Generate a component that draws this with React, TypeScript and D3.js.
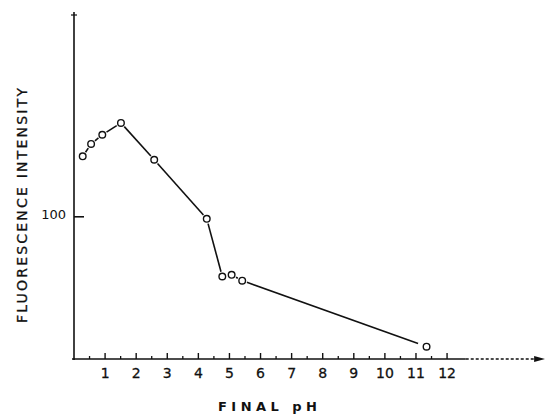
import React from "react";
import * as d3 from "d3";

const phValues = [0.28, 0.55, 0.91, 1.51, 2.58, 4.27, 4.77, 5.07, 5.41, 11.34];
const intensityValues = [142.5, 151.2, 157.7, 166, 140.1, 98.6, 58, 59.2, 55.1, 8.7];
const xTickLabels = ["1", "2", "3", "4", "5", "6", "7", "8", "9", "10", "11", "12"];
const xTickValues = [1, 2, 3, 4, 5, 6, 7, 8, 9, 10, 11, 12];
const yTickValues = [100];
const yTickLabels = ["100"];
const xTitle = "FINAL pH";
const yTitle = "FLUORESCENCE INTENSITY";

const W = 550;
const H = 416;

export default function App() {
  const x = d3.scaleLinear().domain([0, 15.15]).range([74, 545]);
  const y = d3.scaleLinear().domain([0, 244]).range([359, 12]);
  const pts = phValues.map((p, i) => [x(p), y(intensityValues[i])] as [number, number]);
  const line = d3.line<[number, number]>();
  const minor = d3.range(0.5, 12, 1);
  const ink = "#111";
  const font = "'DejaVu Sans', sans-serif";

  const segs: string[] = [];
  for (let i = 0; i < pts.length - 1; i++) {
    const [x0, y0] = pts[i];
    const [x1, y1] = pts[i + 1];
    const dx = x1 - x0, dy = y1 - y0;
    const len = Math.hypot(dx, dy);
    const g0 = 5, g1 = i === pts.length - 2 ? 9 : 5;
    if (len <= g0 + g1) continue;
    const a: [number, number] = [x0 + (dx * g0) / len, y0 + (dy * g0) / len];
    const b: [number, number] = [x1 - (dx * g1) / len, y1 - (dy * g1) / len];
    segs.push(line([a, b]) as string);
  }

  return (
    <svg width={W} height={H} style={{ position: "absolute", left: 0, top: 0, background: "#fff" }}>
      {/* y axis */}
      <line x1={74} y1={y(244)} x2={74} y2={360} stroke={ink} strokeWidth={1.6} />
      <line x1={71} y1={y(244) + 3} x2={77} y2={y(244) + 3} stroke={ink} strokeWidth={1.2} />
      {yTickValues.map((v, i) => (
        <g key={v}>
          <line x1={74} y1={y(v)} x2={84} y2={y(v)} stroke={ink} strokeWidth={1.6} />
          <text x={66} y={y(v) + 2} fontFamily={font} fontSize={13} textAnchor="end" fill={ink}>
            {yTickLabels[i]}
          </text>
        </g>
      ))}
      {/* x axis */}
      <line x1={72} y1={y(0)} x2={x(12.6)} y2={y(0)} stroke={ink} strokeWidth={1.6} />
      <line x1={x(12.6)} y1={y(0)} x2={x(14.8)} y2={y(0)} stroke={ink} strokeWidth={1.3} strokeDasharray="3 2" />
      <path d={`M${x(14.8)},${y(0) - 3} L${x(15.15)},${y(0)} L${x(14.8)},${y(0) + 3} Z`} fill={ink} />
      {xTickValues.map((v, i) => (
        <g key={v}>
          <line x1={x(v)} y1={y(0)} x2={x(v)} y2={y(0) - 6} stroke={ink} strokeWidth={1.4} />
          <text
            x={x(v)}
            y={378}
            fontFamily={font}
            fontSize={14}
            textAnchor="middle"
            fill={ink}
            stroke={ink}
            strokeWidth={0.3}
          >
            {xTickLabels[i]}
          </text>
        </g>
      ))}
      {minor.map((v) => (
        <line key={v} x1={x(v)} y1={y(0)} x2={x(v)} y2={y(0) - 3} stroke={ink} strokeWidth={1.3} />
      ))}
      {/* data line */}
      {segs.map((d, i) => (
        <path key={i} d={d} fill="none" stroke={ink} strokeWidth={1.6} />
      ))}
      {pts.map(([px, py], i) => (
        <circle key={i} cx={px} cy={py} r={3.3} fill="#fff" stroke={ink} strokeWidth={1.4} />
      ))}
      {/* titles */}
      <text
        x={218}
        y={411}
        fontFamily={font}
        fontSize={13}
        fontWeight="bold"
        textLength={99}
        lengthAdjust="spacing"
        fill={ink}
      >
        {xTitle}
      </text>
      <text
        transform={`translate(27,323) rotate(-90)`}
        fontFamily={font}
        fontSize={14}
        textLength={235}
        lengthAdjust="spacing"
        fill={ink}
        stroke={ink}
        strokeWidth={0.3}
      >
        {yTitle}
      </text>
    </svg>
  );
}
